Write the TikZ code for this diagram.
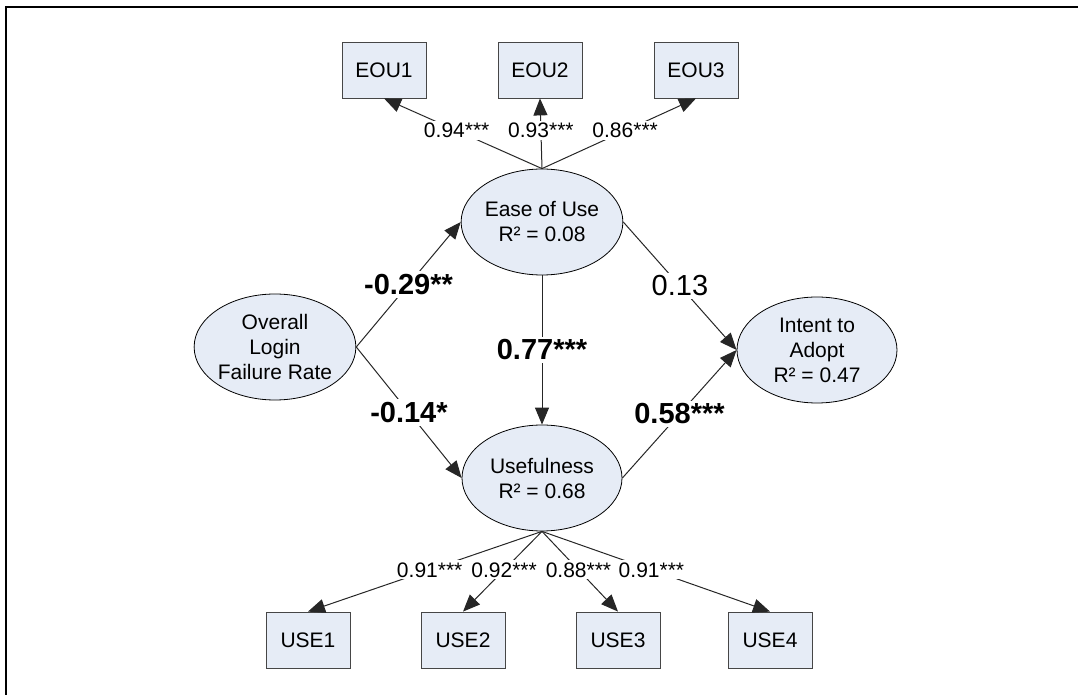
\documentclass[tikz,border=0pt]{standalone}
\usepackage{fontspec}
\setmainfont{Liberation Sans}
\usetikzlibrary{shapes.geometric,arrows.meta}
\definecolor{boxblue}{RGB}{230,236,246}
\definecolor{boxline}{RGB}{70,70,70}

\begin{document}
\begin{tikzpicture}[x=0.5pt,y=-0.5pt,
   latent/.style={ellipse,draw,fill=boxblue,inner sep=0pt,minimum width=80pt,
      minimum height=53pt,align=center,font=\fontsize{10.5}{12.5}\selectfont},
   item/.style={rectangle,draw=boxline,fill=boxblue,minimum width=42pt,
      minimum height=28pt,font=\fontsize{10.5}{12}\selectfont},
   loadlbl/.style={fill=white,inner sep=1pt,font=\fontsize{10.5}{12}\selectfont},
   coef/.style={fill=white,inner sep=1.5pt,font=\fontsize{14.5}{16}\selectfont},
   arr/.style={draw=black!85,line width=0.5pt,-{Triangle[length=8.5pt,width=7pt]}}]
   \useasboundingbox (0,0) rectangle (1078,695);
   \draw[line width=1pt] (6,695) -- (6,7.5) -- (1078,7.5);

   \node[latent] (olfr) at (275,347) {Overall\\Login\\Failure Rate};
   \node[latent] (eou) at (542,222) {Ease of Use\\R² = 0.08};
   \node[latent] (use) at (542,478) {Usefulness\\R² = 0.68};
   \node[latent] (ita) at (817,350) {Intent to\\Adopt\\R² = 0.47};

   \foreach \x[count=\xi] in {384,540,696}{
   \node[item] (eou\xi) at (\x,70) {EOU\xi};
   }
   \foreach \x[count=\xi] in {308,463,618,770}{
   \node[item] (use\xi) at (\x,640) {USE\xi};
   }

   \foreach \i/\v in {1/0.94,2/0.93,3/0.86}{
   \draw[arr] (eou.north) -- node[loadlbl,pos=0.54] {\v***} (eou\i.south);
   }
   \foreach \i/\v in {1/0.91,2/0.92,3/0.88,4/0.91}{
   \draw[arr] (use.south) -- node[loadlbl,pos=0.48] {\v***} (use\i.north);
   }

   \draw[arr] (olfr.east) -- node[coef] {\bfseries -0.29**} (eou.west);
   \draw[arr] (olfr.east) -- node[coef] {\bfseries -0.14*} (use.west);
   \draw[arr] (eou.south) -- node[coef] {\bfseries 0.77***} (use.north);
   \draw[arr] (eou.east) -- node[coef] {0.13} (ita.west);
   \draw[arr] (use.east) -- node[coef] {\bfseries 0.58***} (ita.west);
\end{tikzpicture}
\end{document}
